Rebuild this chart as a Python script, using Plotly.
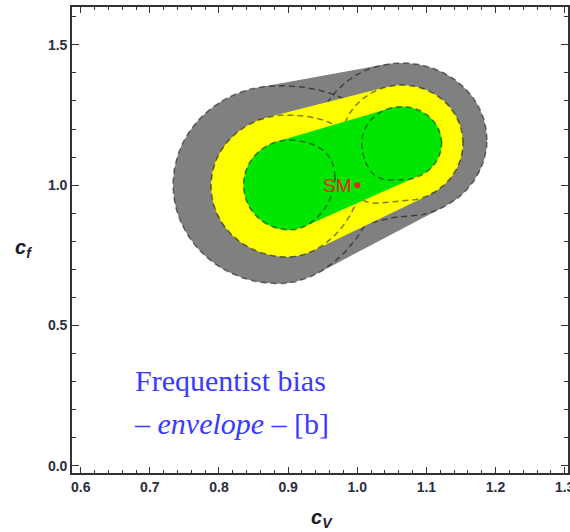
import numpy as np
import plotly.graph_objects as go

# ---------------- data ----------------
# confidence levels, outer to inner
level_names = ["3 sigma", "2 sigma", "1 sigma"]
fill_colors = ["#808080", "#ffff00", "#00e600"]

# contour of the "left" end of the bias envelope at each level
left_cx = [0.8854, 0.8984, 0.9016]
left_cy = [1.0018, 0.9971, 1.0007]
left_rx = [0.1519, 0.1100, 0.0662]
left_ry = [0.3530, 0.2531, 0.1604]
left_lift = [0.0784, 0.0535, 0.0285]    # upward bulge of the right half

# contour of the "right" end of the bias envelope at each level
right_cx = [1.0647, 1.0647, 1.0643]
right_cy = [1.1611, 1.1500, 1.1494]
right_rx = [0.1229, 0.0882, 0.0579]
right_ry = [0.2745, 0.2068, 0.1308]
right_drop = [0.0856, 0.0463, 0.0178]   # downward bulge of the lower-left quarter

sm_cv = [1.0]
sm_cf = [1.0]

x_tick_vals = [0.6, 0.7, 0.8, 0.9, 1.0, 1.1, 1.2, 1.3]
y_tick_vals = [0.0, 0.5, 1.0, 1.5]

T = np.linspace(0, 2 * np.pi, 400)


def left_contour(cx, cy, rx, ry, lift):
    c, s = np.cos(T), np.sin(T)
    return cx + rx * c, cy + ry * s + lift * np.clip(c, 0, None) ** 2


def right_contour(cx, cy, rx, ry, drop):
    c, s = np.cos(T), np.sin(T)
    ll = ((c < 0) & (s < 0)).astype(float)
    return cx + rx * c, cy + ry * s - drop * ll * np.sin(2 * T) ** 2


def hull(xs, ys):
    pts = sorted(set(zip(np.round(xs, 7), np.round(ys, 7))))

    def cross(o, a, b):
        return (a[0] - o[0]) * (b[1] - o[1]) - (a[1] - o[1]) * (b[0] - o[0])

    lower, upper = [], []
    for p in pts:
        while len(lower) >= 2 and cross(lower[-2], lower[-1], p) <= 0:
            lower.pop()
        lower.append(p)
    for p in reversed(pts):
        while len(upper) >= 2 and cross(upper[-2], upper[-1], p) <= 0:
            upper.pop()
        upper.append(p)
    h = lower[:-1] + upper[:-1]
    h.append(h[0])
    return [p[0] for p in h], [p[1] for p in h]


fig = go.Figure()
dash_col = "rgba(0,0,0,0.5)"
for i, name in enumerate(level_names):
    lx, ly = left_contour(left_cx[i], left_cy[i], left_rx[i], left_ry[i], left_lift[i])
    rx_, ry_ = right_contour(right_cx[i], right_cy[i], right_rx[i], right_ry[i], right_drop[i])
    hx, hy = hull(np.concatenate([lx, rx_]), np.concatenate([ly, ry_]))
    fig.add_trace(go.Scatter(x=hx, y=hy, mode="lines", fill="toself",
                             fillcolor=fill_colors[i], line=dict(width=0, color=fill_colors[i]),
                             hoverinfo="skip", showlegend=False, name=name))
    for ex, ey in [(lx, ly), (rx_, ry_)]:
        fig.add_trace(go.Scatter(x=ex, y=ey, mode="lines",
                                 line=dict(color=dash_col, width=1.5, dash="6px,4px"),
                                 hoverinfo="skip", showlegend=False))

fig.add_trace(go.Scatter(x=sm_cv, y=sm_cf, mode="markers",
                         marker=dict(color="#e8241c", size=6), showlegend=False))

fig.add_annotation(x=sm_cv[0], y=sm_cf[0], text="SM", showarrow=False, xanchor="right",
                   yanchor="middle", xshift=-3, font=dict(family="Liberation Sans, Arial", size=19, color="#e8241c"))

blue = "#3a3aff"
fig.add_annotation(x=0.6756, y=0.3055, text="Frequentist bias", showarrow=False, xanchor="left",
                   yanchor="middle", font=dict(family="Liberation Serif, Times New Roman", size=30, color=blue))
fig.add_annotation(x=0.6736, y=0.152, text="– <i>envelope</i> – [b]", showarrow=False, xanchor="left",
                   yanchor="middle", font=dict(family="Liberation Serif, Times New Roman", size=30, color=blue))

title_font = dict(family="Liberation Sans, Arial", size=20, color="#1a1a2a")
fig.add_annotation(xref="paper", yref="paper", x=0.504, y=-0.0966,
                   text="<b><i>c</i></b><sub><b><i>V</i></b></sub>", showarrow=False,
                   xanchor="center", yanchor="middle", font=title_font)
fig.add_annotation(xref="paper", yref="paper", x=-0.0968, y=0.4828,
                   text="<b><i>c</i></b><sub><b><i>f</i></b></sub>", showarrow=False,
                   xanchor="center", yanchor="middle", font=title_font)

tick_font = dict(family="Liberation Sans, Arial", size=14, color="#2d2d40", weight="bold")
axis_common = dict(showgrid=False, zeroline=False, showline=True, linecolor="#333333", linewidth=1.6,
                   mirror="allticks", ticks="inside", tickcolor="#333333", tickwidth=1.2,
                   tickfont=tick_font, automargin=False, ticklabeloverflow="allow")
fig.update_xaxes(range=[0.5874, 1.3048], tickvals=x_tick_vals, ticktext=[f"{v:.1f}" for v in x_tick_vals],
                 ticklen=6, minor=dict(dtick=0.02, tick0=0.6, ticks="inside", ticklen=3.5,
                                       tickcolor="#333333", tickwidth=1.2), **axis_common)
fig.update_yaxes(range=[-0.026, 1.635], tickvals=y_tick_vals, ticktext=[f"{v:.1f}" for v in y_tick_vals],
                 ticklen=7, minor=dict(dtick=0.1, tick0=0.0, ticks="inside", ticklen=4,
                                       tickcolor="#333333", tickwidth=1.2), **axis_common)
fig.update_layout(width=570, height=532, margin=dict(l=72, r=2, t=7, b=59, autoexpand=False),
                  plot_bgcolor="white", paper_bgcolor="white", showlegend=False)
fig.write_html("out.html", config={"displayModeBar": False},
               post_script="document.body.style.margin='0px';document.body.style.overflow='hidden';")
